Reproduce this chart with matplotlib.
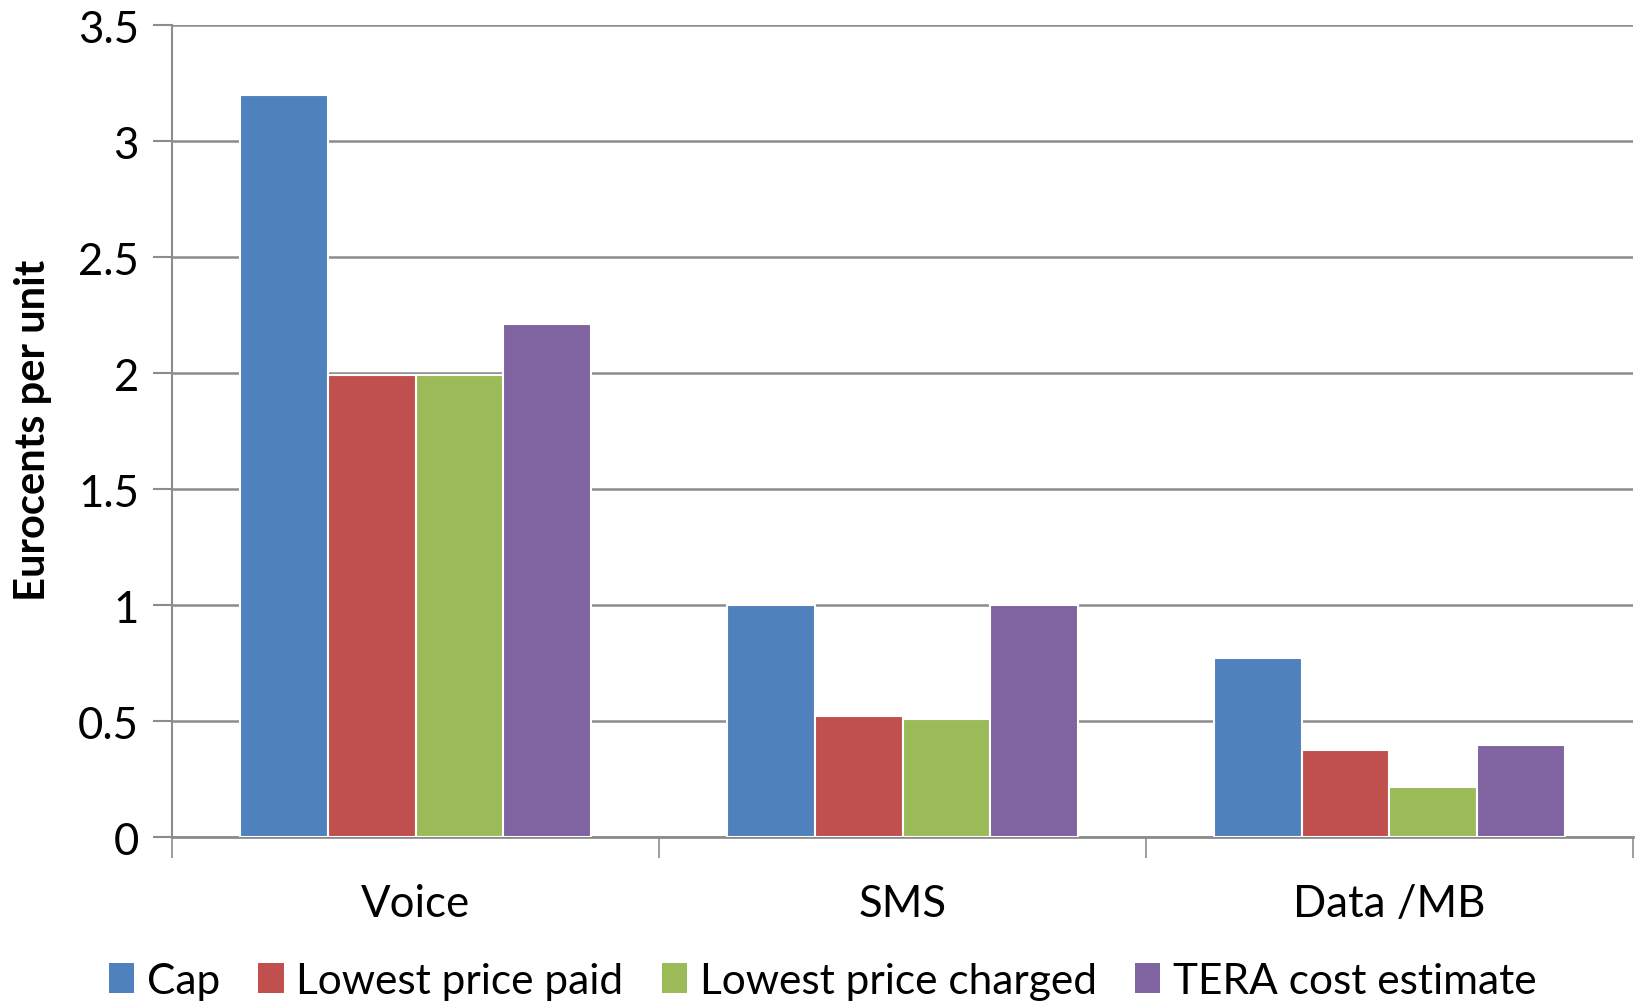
import numpy as np
import matplotlib.pyplot as plt
from matplotlib.patches import Patch

plt.rcParams['font.family'] = ['Lato', 'DejaVu Sans']

# data
categories = ['Voice', 'SMS', 'Data /MB']
series_names = ['Cap', 'Lowest price paid', 'Lowest price charged', 'TERA cost estimate']
cap = [3.20, 1.00, 0.77]
lowest_paid = [1.99, 0.52, 0.375]
lowest_charged = [1.99, 0.51, 0.215]
tera_cost = [2.21, 1.00, 0.395]
yticks = [0, 0.5, 1, 1.5, 2, 2.5, 3, 3.5]
ytick_labels = ['0', '0.5', '1', '1.5', '2', '2.5', '3', '3.5']

colors = ['#4F81BD', '#C0504D', '#9BBB59', '#8064A2']
grid_col = '#8C8C8C'

fig = plt.figure(figsize=(16.39, 10.04), dpi=100)
ax = fig.add_axes([0.105, 0.1653, 0.8913, 0.8087])

x = np.arange(len(categories))
w = 0.18
allvals = [cap, lowest_paid, lowest_charged, tera_cost]
for i, vals in enumerate(allvals):
    ax.bar(x + (i - 1.5) * w, vals, w, color=colors[i], edgecolor='white',
           linewidth=1.5, zorder=3)

ax.set_xlim(-0.5, 2.5)
ax.set_ylim(0, 3.5)
ax.set_yticks(yticks)
ax.set_yticklabels(ytick_labels, fontsize=31.5)
ax.yaxis.grid(True, color=grid_col, linewidth=1.8, zorder=0)
ax.set_axisbelow(True)

ax.set_xticks(x)
ax.set_xticklabels(categories, fontsize=31.5)
ax.set_xticks([-0.5, 0.5, 1.5, 2.5], minor=True)
ax.tick_params(axis='x', which='major', length=0, pad=33)
ax.tick_params(axis='x', which='minor', length=15, width=1.2, color=grid_col)
ax.tick_params(axis='y', length=14, width=1.5, color=grid_col, pad=10)

for s in ['top', 'right']:
    ax.spines[s].set_visible(False)
ax.spines['left'].set_color(grid_col)
ax.spines['left'].set_linewidth(1.5)
ax.spines['bottom'].set_color(grid_col)
ax.spines['bottom'].set_linewidth(2)

fig.text(0.02, 0.571, 'Eurocents per unit', rotation=90, fontsize=30,
         fontweight='bold', ha='center', va='center')

handles = [Patch(facecolor=c, edgecolor='none') for c in colors]
fig.legend(handles, series_names, loc='center', bbox_to_anchor=(0.502, 0.022),
           ncol=4, frameon=False, fontsize=30.5, handlelength=0.6,
           handleheight=0.7, handletextpad=0.3, columnspacing=0.9)

fig.savefig('out.png', dpi=100)
